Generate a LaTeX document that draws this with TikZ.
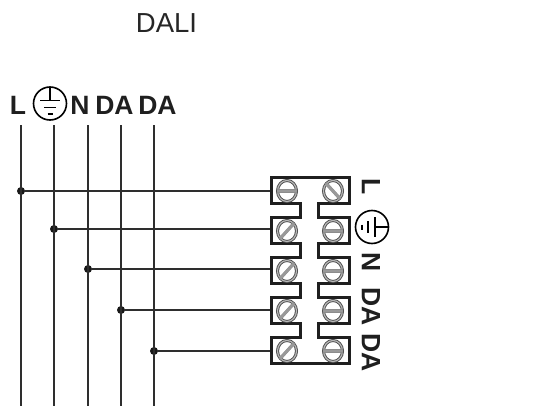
\documentclass[tikz,border=0pt]{standalone}
\usepackage{fontspec}
\setmainfont{Liberation Sans}
\usetikzlibrary{shapes.geometric}
\definecolor{wirecol}{gray}{0.18}
\definecolor{slotcol}{gray}{0.6}
\tikzset{
  wire/.style={draw=wirecol, line width=1.9pt},
  blockline/.style={draw=black!88, line width=3pt, line join=miter},
  junction/.style={circle, fill=black!90, inner sep=0pt, minimum size=8pt},
  screw/.style={ellipse, draw=black!70, line width=0.9pt, double=slotcol!70, double distance=1.2pt, inner sep=0pt, minimum width=19pt, minimum height=21pt},
  slot/.style={draw=black!45, line width=0.3pt, double=slotcol, double distance=2.6pt},
  pin/.style={font=\bfseries\fontsize{26.5}{30}\selectfont, text=black!88, inner sep=0pt},
  title/.style={font=\fontsize{27.5}{30}\selectfont, text=black!85, inner sep=0pt},
  earth/.pic={
    \node[circle, draw=black, line width=1.6pt, minimum size=33pt, inner sep=0pt] (-ring) at (0,0) {};
    \draw[line width=1.7pt, black] (0,-16) -- (0,-3);
    \draw[line width=1.7pt, black] (-10,-3) -- (10,-3);
    \draw[line width=1.7pt, black] (-6,4) -- (6,4);
    \draw[line width=2pt, black] (-2.5,10) -- (2.5,10);
  }
}
\begin{document}
\begin{tikzpicture}[x=1pt, y=-1pt]
  \useasboundingbox (0,0) rectangle (558,407);

  % heading and wire names
  \node[title] (heading) at (166.5,23) {DALI};
  \node[pin] (nameL) at (18,105) {L};
  \pic (earthtop) at (50,103.5) {earth};
  \node[pin] (nameN) at (80,105) {N};
  \node[pin] (nameA) at (114.5,105) {DA};
  \node[pin] (nameB) at (157.5,105) {DA};

  % terminal block
  \draw[blockline] (271,177) -- (349,177) -- (349,203) -- (318,203) -- (318,217) -- (349,217)
    -- (349,243) -- (318,243) -- (318,257) -- (349,257) -- (349,283) -- (318,283) -- (318,297)
    -- (349,297) -- (349,323) -- (318,323) -- (318,337) -- (349,337) -- (349,363)
    -- (271,363) -- (271,337) -- (300,337) -- (300,323) -- (271,323) -- (271,297) -- (300,297)
    -- (300,283) -- (271,283) -- (271,257) -- (300,257) -- (300,243) -- (271,243) -- (271,217)
    -- (300,217) -- (300,203) -- (271,203) -- cycle;

  % screws
  \node[screw] (s1) at (287,191) {};
  \node[screw] (s2) at (287,231) {};
  \node[screw] (s3) at (287,271) {};
  \node[screw] (s4) at (287,311) {};
  \node[screw] (s5) at (287,351) {};
  \node[screw] (r1) at (333,191) {};
  \node[screw] (r2) at (333,231) {};
  \node[screw] (r3) at (333,271) {};
  \node[screw] (r4) at (333,311) {};
  \node[screw] (r5) at (333,351) {};
  \draw[slot] (s1.west) -- (s1.east);
  \draw[slot] (s2.south west) -- (s2.north east);
  \draw[slot] (s3.south west) -- (s3.north east);
  \draw[slot] (s4.south west) -- (s4.north east);
  \draw[slot] (s5.south west) -- (s5.north east);
  \draw[slot] (r1.north west) -- (r1.south east);
  \draw[slot] (r2.west) -- (r2.east);
  \draw[slot] (r3.west) -- (r3.east);
  \draw[slot] (r4.west) -- (r4.east);
  \draw[slot] (r5.west) -- (r5.east);

  % terminal names
  \node[pin, rotate=-90] (termL) at (371,187) {L};
  \pic[rotate=-90] (earthside) at (372,227) {earth};
  \node[pin, rotate=-90] (termN) at (371,262) {N};
  \node[pin, rotate=-90] (termA) at (371,307) {DA};
  \node[pin, rotate=-90] (termB) at (371,353) {DA};

  % wires
  \coordinate (topL) at (21,125);
  \coordinate (topE) at (54,125);
  \coordinate (topN) at (88,125);
  \coordinate (topA) at (121,125);
  \coordinate (topB) at (154,125);
  \coordinate (botL) at (21,405.5);
  \coordinate (botE) at (54,405.5);
  \coordinate (botN) at (88,405.5);
  \coordinate (botA) at (121,405.5);
  \coordinate (botB) at (154,405.5);
  \coordinate (inL) at (270,191);
  \coordinate (inE) at (270,229);
  \coordinate (inN) at (270,269);
  \coordinate (inA) at (270,310);
  \coordinate (inB) at (270,351);
  \node[junction] (dotL) at (21,191) {};
  \node[junction] (dotE) at (54,229) {};
  \node[junction] (dotN) at (88,269) {};
  \node[junction] (dotA) at (121,310) {};
  \node[junction] (dotB) at (154,351) {};
  \draw[wire] (topL) -- (botL);
  \draw[wire] (topE) -- (botE);
  \draw[wire] (topN) -- (botN);
  \draw[wire] (topA) -- (botA);
  \draw[wire] (topB) -- (botB);
  \draw[wire] (dotL) -- (inL);
  \draw[wire] (dotE) -- (inE);
  \draw[wire] (dotN) -- (inN);
  \draw[wire] (dotA) -- (inA);
  \draw[wire] (dotB) -- (inB);
\end{tikzpicture}
\end{document}
